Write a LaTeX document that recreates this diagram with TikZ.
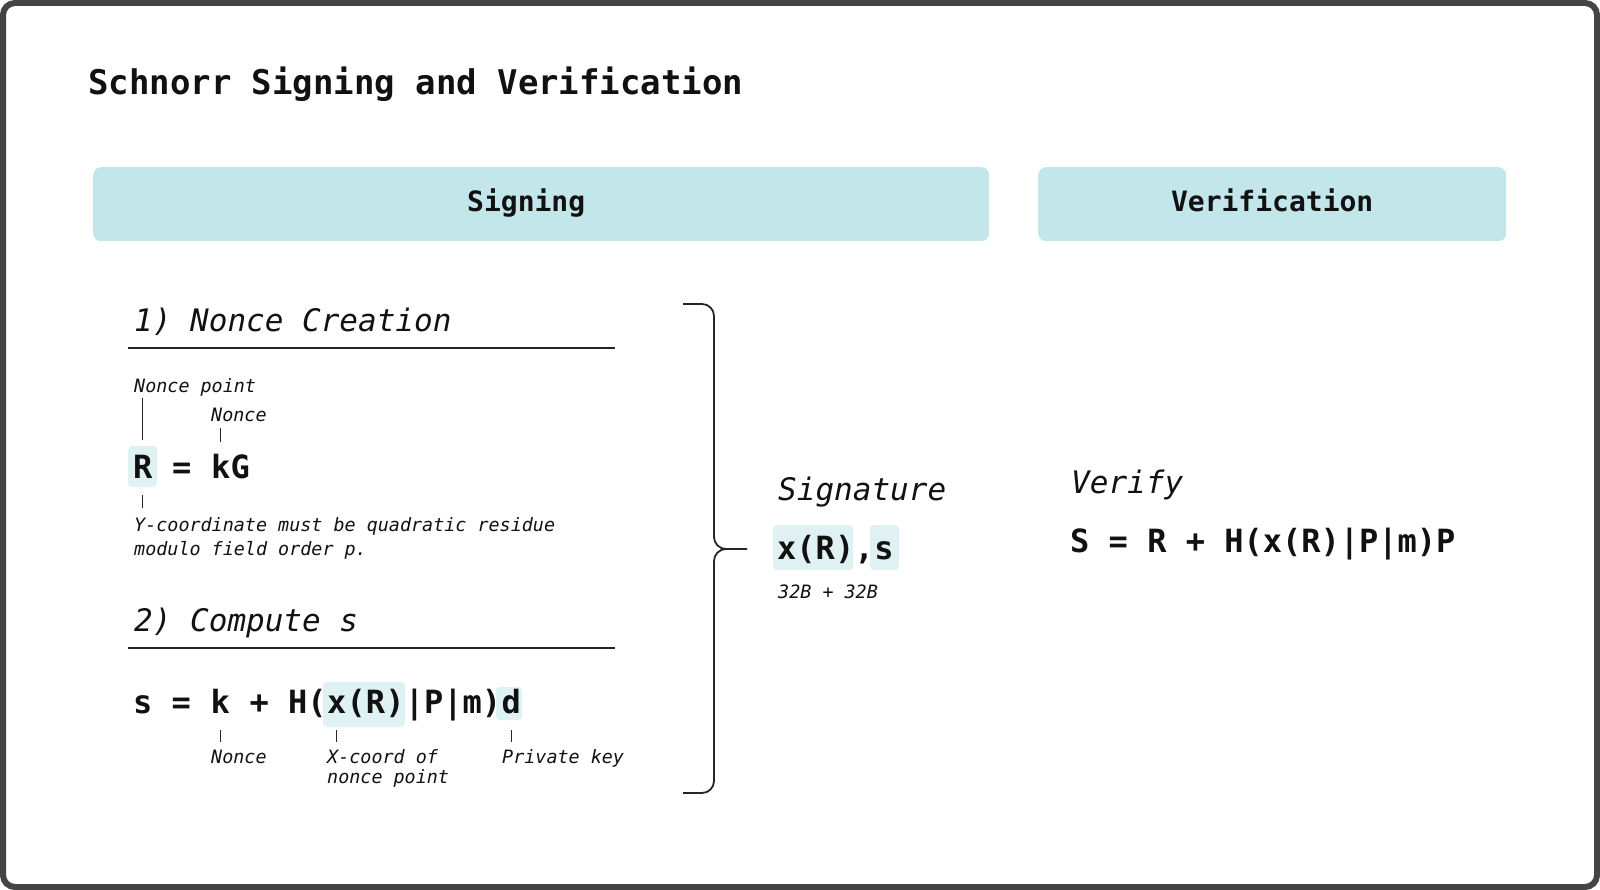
\documentclass[tikz,border=0pt]{standalone}
\usepackage{fontspec}
\setmainfont{DejaVu Sans Mono}[ItalicFont={DejaVu Sans Mono Oblique},BoldFont={DejaVu Sans Mono Bold},BoldItalicFont={DejaVu Sans Mono Bold Oblique}]
\definecolor{frameGray}{HTML}{444444}
\definecolor{headTeal}{HTML}{C2E6E9}
\definecolor{markTeal}{HTML}{DFF1F2}
\definecolor{inkBlack}{HTML}{111111}
\newcommand\sigTitle{\fontsize{34}{40}\selectfont\bfseries}
\newcommand\sigHead{\fontsize{28}{34}\selectfont\bfseries}
\newcommand\sigStep{\fontsize{31}{36}\selectfont\itshape}
\newcommand\sigEq{\fontsize{32}{38}\selectfont\bfseries}
\newcommand\sigNote{\fontsize{18.4}{24}\selectfont\itshape}
\begin{document}
\begin{tikzpicture}[x=1pt,y=-1pt,inkBlack,
  hdr/.style={fill=headTeal,draw=none,rounded corners=8pt,anchor=north west,font=\sigHead,text height=21pt,text depth=6pt},
  txt/.style={inner sep=0pt,anchor=base west},
  hilite/.style={fill=markTeal,rounded corners=4pt},
  rule/.style={line width=1.5pt,black!85},
  tick/.style={line width=1.3pt,black!85}]
\useasboundingbox (0,0) rectangle (1600,890);
\draw[line width=6pt,frameGray,rounded corners=12pt] (3,3) rectangle (1597,887);
\node[txt,font=\sigTitle] (title) at (88,95) {Schnorr Signing and Verification};
\node[hdr,minimum width=896pt,minimum height=74pt] (signHdr) at (93,167) {\hspace*{-30pt}Signing};
\node[hdr,minimum width=468pt,minimum height=74pt] (verHdr) at (1038,167) {Verification};
% highlights
\fill[hilite] (128,446) rectangle (157,487);
\fill[hilite] (323,682) rectangle (405,727);
\fill[hilite] (496,687) rectangle (522,720);
\fill[hilite] (773,525) rectangle (853,570);
\fill[hilite] (870,525) rectangle (899,570);
% 1) nonce
\node[txt,font=\sigStep] (step1) at (134,331) {1) Nonce Creation};
\draw[rule] (128,348) -- (615,348);
\node[txt,font=\sigNote] (rPtLbl) at (134,392) {Nonce point};
\node[txt,font=\sigNote] (kLbl) at (211,421) {Nonce};
\node[txt,font=\sigEq] (eqR) at (133,478) {R};
\node[txt,font=\sigEq] (eqEq) at (eqR.base east) {~=~\null};
\node[txt,font=\sigEq] (eqK) at (eqEq.base east) {k};
\node[txt,font=\sigEq] (eqG) at (eqK.base east) {G};
\node[txt,font=\sigNote] (yNote1) at (134,531) {Y-coordinate must be quadratic residue};
\node[txt,font=\sigNote] (yNote2) at (134,555) {modulo field order p.};
\draw[tick] ([yshift=-6pt]rPtLbl.base -| eqR.base) -- ([yshift=38pt]eqR.base);
\draw[tick] ([yshift=-7pt]kLbl.base -| eqK.base) -- ([yshift=36pt]eqK.base);
\draw[tick] ([yshift=-17pt]eqR.base) -- ([yshift=23pt]yNote1.base -| eqR.base);
% 2) compute s
\node[txt,font=\sigStep] (step2) at (134,631) {2) Compute s};
\draw[rule] (128,648) -- (615,648);
\node[txt,font=\sigEq] (sLhs) at (133,713) {s~=~\null};
\node[txt,font=\sigEq] (sK) at (sLhs.base east) {k};
\node[txt,font=\sigEq] (sPlus) at (sK.base east) {~+~H(};
\node[txt,font=\sigEq] (sX) at (sPlus.base east) {x};
\node[txt,font=\sigEq] (sR) at (sX.base east) {(R)};
\node[txt,font=\sigEq] (sPm) at (sR.base east) {|P|m)};
\node[txt,font=\sigEq] (sD) at (sPm.base east) {d};
\node[txt,font=\sigNote] (sKLbl) at (211,763) {Nonce};
\node[txt,font=\sigNote] (xcNote1) at (327,763) {X-coord of};
\node[txt,font=\sigNote] (xcNote2) at (327,783) {nonce point};
\node[txt,font=\sigNote] (dLbl) at (502,763) {Private key};
\foreach \part/\lbl in {sK/sKLbl,sX/xcNote1,sD/dLbl}
  \draw[tick] ([yshift=-17pt]\part.base) -- ([yshift=21pt]\lbl.base -| \part.base);
% brace
\draw[line width=1.8pt,black!85,rounded corners=12pt] (683,304) -- (714,304) -- (714,549) -- (747,549);
\draw[line width=1.8pt,black!85,rounded corners=12pt] (683,793) -- (714,793) -- (714,549) -- (747,549);
% signature
\node[txt,font=\sigStep] (sigLbl) at (778,500) {Signature};
\node[txt,font=\sigEq] (sigX) at (777,559) {x(R)};
\node[txt,font=\sigEq] (sigC) at (sigX.base east) {,};
\node[txt,font=\sigEq] (sigS) at (sigC.base east) {s};
\node[txt,font=\sigNote] (sizeLbl) at (778,598) {32B + 32B};
% verification
\node[txt,font=\sigStep] (verLbl) at (1071,493) {Verify};
\node[txt,font=\sigEq] (verEq) at (1070,552) {S~=~R~+~H(x(R)|P|m)P};
\end{tikzpicture}
\end{document}
